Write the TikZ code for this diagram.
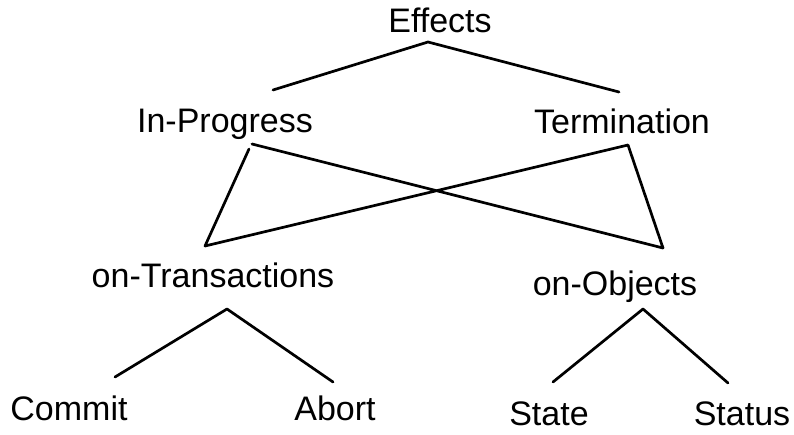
\documentclass[tikz,border=0pt]{standalone}
\usepackage{fontspec}
\setmainfont{Liberation Sans}
\begin{document}
\begin{tikzpicture}[x=1pt,y=-1pt,
  lbl/.style={anchor=base,inner sep=0pt,font=\fontsize{34}{39}\selectfont},
  edge/.style={line width=2.7pt,line cap=round,line join=round}]
\useasboundingbox (0,0) rectangle (794,434);
% labels
\node[lbl] (eff) at (440,32) {Effects};
\node[lbl] (inp) at (225,132) {In-Progress};
\node[lbl] (ter) at (622,133) {Termination};
\node[lbl] (otr) at (213,287) {on-Transactions};
\node[lbl] (oob) at (615,295) {on-Objects};
\node[lbl] (com) at (69,420) {Commit};
\node[lbl] (abo) at (335,420) {Abort};
\node[lbl] (sta) at (549,425) {State};
\node[lbl] (sts) at (742,425) {Status};
% connector end points
\coordinate (eff-s) at (428,42);
\coordinate (inp-n) at (273,90);
\coordinate (ter-n) at (619,92);
\coordinate (inp-s1) at (249,149);
\coordinate (inp-s2) at (252,144);
\coordinate (ter-s) at (628,145);
\coordinate (otr-n) at (205,246);
\coordinate (oob-n) at (663,248);
\coordinate (otr-s) at (227,309);
\coordinate (com-n) at (115,377);
\coordinate (abo-n) at (333,382);
\coordinate (oob-s) at (643,309);
\coordinate (sta-n) at (553,382);
\coordinate (sts-n) at (728,383);
% connectors
\draw[edge] (inp-n) -- (eff-s) -- (ter-n);
\draw[edge] (inp-s1) -- (otr-n) -- (ter-s) -- (oob-n) -- (inp-s2);
\draw[edge] (com-n) -- (otr-s) -- (abo-n);
\draw[edge] (sta-n) -- (oob-s) -- (sts-n);
\end{tikzpicture}
\end{document}
